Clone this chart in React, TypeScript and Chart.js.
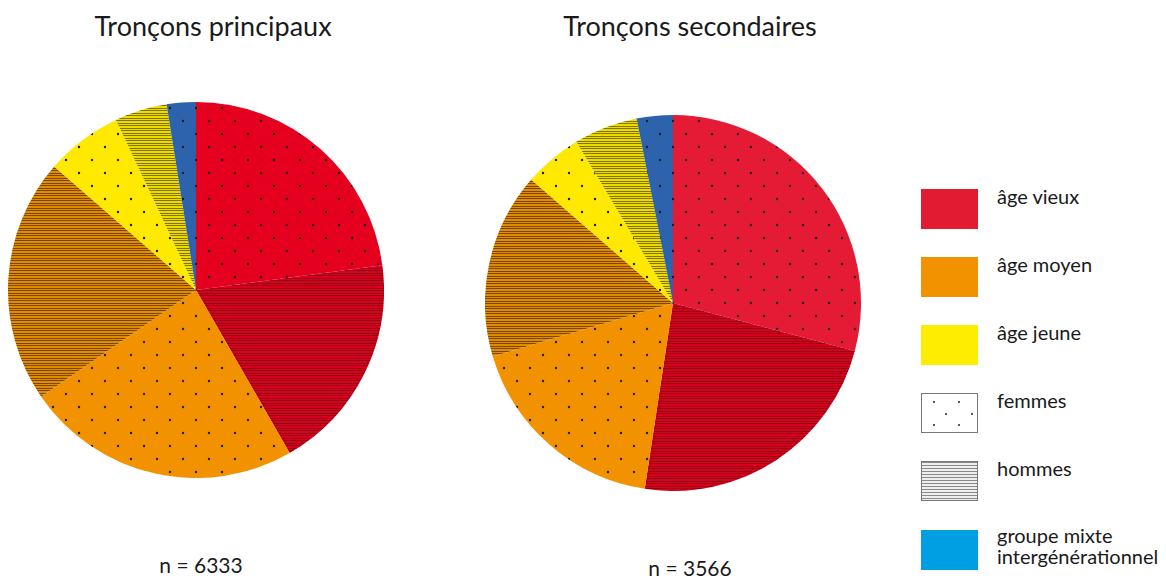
import React, { useEffect, useRef } from "react";
import { Chart, registerables } from "chart.js";

Chart.register(...registerables);

const categories = [
  "femmes âge vieux",
  "hommes âge vieux",
  "femmes âge moyen",
  "hommes âge moyen",
  "femmes âge jeune",
  "hommes âge jeune",
  "groupe mixte intergénérationnel",
];
const principauxValues = [22.9, 18.8, 23.7, 21.0, 6.6, 4.5, 2.5];
const secondairesValues = [29.1, 23.3, 18.0, 16.0, 5.0, 5.5, 3.1];
const chartTitles = ["Tronçons principaux", "Tronçons secondaires"];
const nLabels = ["n = 6333", "n = 3566"];
const legendLabels = ["âge vieux", "âge moyen", "âge jeune", "femmes", "hommes", "groupe mixte", "intergénérationnel"];

const FONT = "Lato, 'Open Sans', sans-serif";

function dotPattern(base: string) {
  const c = document.createElement("canvas");
  c.width = 26;
  c.height = 26;
  const x = c.getContext("2d")!;
  x.fillStyle = base;
  x.fillRect(0, 0, 26, 26);
  x.fillStyle = "#1c1c1c";
  for (const [px, py] of [[6, 6], [19, 19]]) {
    x.beginPath();
    x.arc(px, py, 1.2, 0, Math.PI * 2);
    x.fill();
  }
  return x.createPattern(c, "repeat")!;
}

function linePattern(base: string, line: string) {
  const c = document.createElement("canvas");
  c.width = 4;
  c.height = 5;
  const x = c.getContext("2d")!;
  x.fillStyle = base;
  x.fillRect(0, 0, 4, 5);
  x.fillStyle = line;
  x.fillRect(0, 1, 4, 1);
  x.fillRect(0, 3, 4, 1);
  return x.createPattern(c, "repeat")!;
}

type PieProps = { values: number[]; red: string; left: number; top: number };

function PieChart({ values, red, left, top }: PieProps) {
  const ref = useRef<HTMLCanvasElement>(null);
  useEffect(() => {
    const bg = [
      dotPattern(red),
      linePattern("#d8001e", "rgba(90,0,10,0.55)"),
      dotPattern("#f39200"),
      linePattern("#e08c00", "rgba(60,25,0,0.6)"),
      dotPattern("#ffe900"),
      linePattern("#eedc00", "rgba(40,30,0,0.55)"),
      dotPattern("#2d63ad"),
    ];
    const chart = new Chart(ref.current!, {
      type: "pie",
      data: {
        labels: categories,
        datasets: [{ data: values, backgroundColor: bg as any, borderWidth: 0 }],
      },
      options: {
        responsive: false,
        animation: false,
        layout: { padding: 0 },
        plugins: { legend: { display: false }, tooltip: { enabled: false } },
      },
    });
    return () => chart.destroy();
  }, []);
  return (
    <canvas
      ref={ref}
      width={376}
      height={376}
      style={{ position: "absolute", left, top, width: 376, height: 376 }}
    />
  );
}

// text placed by its baseline
const centered = (cx: number, baseline: number, size: number): React.CSSProperties => ({
  position: "absolute",
  left: cx - 200,
  top: baseline - 0.987 * size,
  width: 400,
  textAlign: "center",
  fontFamily: FONT,
  fontSize: size,
  lineHeight: `${size * 1.2}px`,
  color: "#1a1a1a",
  whiteSpace: "nowrap",
});

function LegendBox({ kind }: { kind: string }) {
  const base: React.CSSProperties = { width: 57, height: 40, boxSizing: "border-box", position: "relative" };
  if (kind === "red") return <div style={{ ...base, background: "#e31b30" }} />;
  if (kind === "orange") return <div style={{ ...base, background: "#f39200" }} />;
  if (kind === "yellow") return <div style={{ ...base, background: "#ffed00" }} />;
  if (kind === "blue") return <div style={{ ...base, background: "#009fe3" }} />;
  if (kind === "dots") {
    const dots = [[12, 8], [37, 8], [24, 20], [50, 20], [12, 31], [37, 31]];
    return (
      <div style={{ ...base, background: "#fff", border: "1px solid #777" }}>
        {dots.map(([x, y], i) => (
          <div key={i} style={{ position: "absolute", left: x - 1, top: y - 1, width: 2, height: 2, borderRadius: 1, background: "#222" }} />
        ))}
      </div>
    );
  }
  return (
    <div
      style={{
        ...base,
        border: "1px solid #777",
        background: "repeating-linear-gradient(to bottom, #8a8a8a 0px, #8a8a8a 1px, #eeeeee 1px, #eeeeee 3px)",
      }}
    />
  );
}

const legendText = (top: number): React.CSSProperties => ({
  position: "absolute",
  left: 989,
  top,
  fontFamily: FONT,
  fontSize: 20,
  lineHeight: "21px",
  color: "#1a1a1a",
  whiteSpace: "nowrap",
});

export default function App() {
  const kinds = ["red", "orange", "yellow", "dots", "lines", "blue"];
  const tops = [181, 249, 317, 385, 453, 522];
  return (
    <div style={{ position: "relative", width: 1150, height: 577, background: "#fff" }}>
      <div style={centered(205, 29, 27)}>{chartTitles[0]}</div>
      <div style={centered(682, 29, 27)}>{chartTitles[1]}</div>
      <PieChart values={principauxValues} red="#e6001f" left={0} top={94} />
      <PieChart values={secondairesValues} red="#e51a35" left={477} top={107} />
      <div style={centered(193, 565, 21)}>{nLabels[0]}</div>
      <div style={centered(682, 568, 21)}>{nLabels[1]}</div>
      {kinds.map((k, i) => (
        <div key={k} style={{ position: "absolute", left: 913, top: tops[i] }}>
          <LegendBox kind={k} />
        </div>
      ))}
      {legendLabels.slice(0, 5).map((l, i) => (
        <div key={l} style={legendText(tops[i] - 3)}>
          {l}
        </div>
      ))}
      <div style={legendText(517)}>
        {legendLabels[5]}
        <br />
        {legendLabels[6]}
      </div>
    </div>
  );
}
